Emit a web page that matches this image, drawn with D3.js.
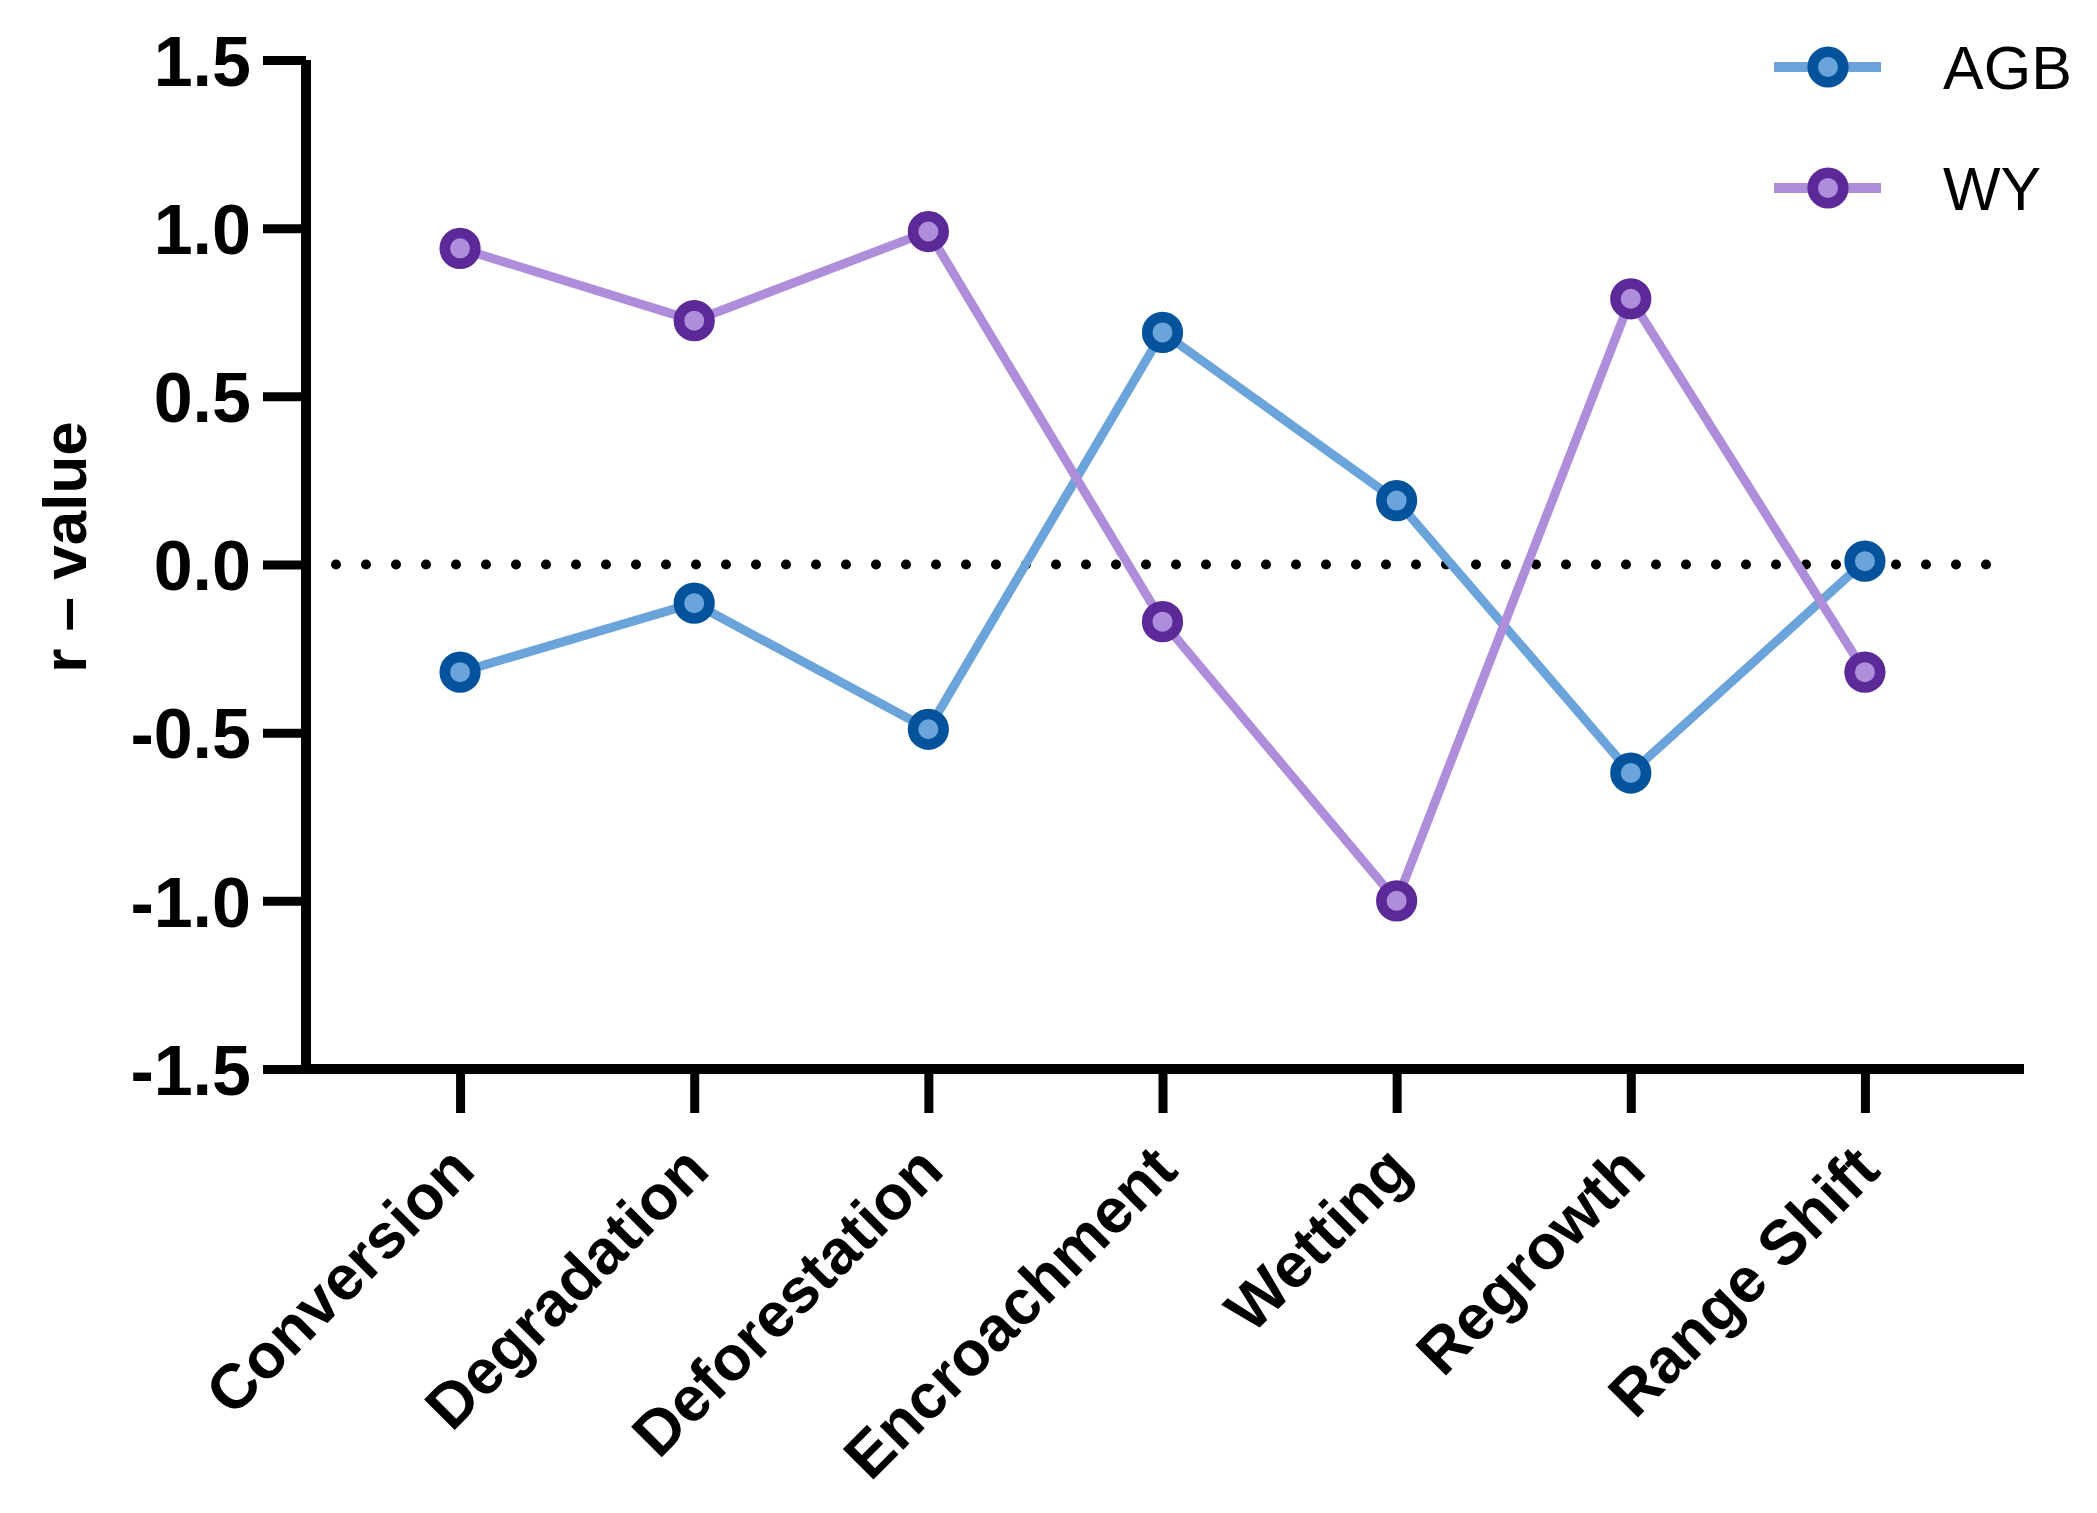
<!DOCTYPE html>
<html>
<head>
<meta charset="utf-8">
<script src="https://cdn.jsdelivr.net/npm/d3@7"></script>
<style>
  body { margin: 0; background: #fff; }
  svg { display: block; font-family: "Liberation Sans", Arial, sans-serif; }
</style>
</head>
<body>
<div class="canvas"></div>
<script>
// data
const categories = ["Conversion", "Degradation", "Deforestation", "Encroachment", "Wetting", "Regrowth", "Range Shift"];
const agb = [-0.32, -0.115, -0.49, 0.69, 0.19, -0.62, 0.01];
const wy = [0.94, 0.725, 0.99, -0.17, -1.0, 0.79, -0.32];
const yTicks = [-1.5, -1.0, -0.5, 0.0, 0.5, 1.0, 1.5];
const seriesNames = ["AGB", "WY"];

const width = 2097;
const height = 1513;
const margin = { top: 60, right: 78, bottom: 444, left: 306 };
const graphWidth = width - margin.left - margin.right;
const graphHeight = height - margin.top - margin.bottom;

const colors = {
  AGB: { line: "#6aa4da", ring: "#02539c", fill: "#6aa4da" },
  WY: { line: "#ae8dda", ring: "#5b2a98", fill: "#ae8dda" }
};

const svg = d3
  .select(".canvas")
  .append("svg")
  .attr("width", width)
  .attr("height", height);

const graph = svg
  .append("g")
  .attr("transform", `translate(${margin.left},${margin.top})`);

//scales
const x = d3.scalePoint().domain(categories).range([0, graphWidth]).padding(0.658);
const y = d3.scaleLinear().domain([-1.5, 1.5]).range([graphHeight, 0]);

//zero reference line (dotted)
graph
  .append("line")
  .attr("x1", 30)
  .attr("x2", graphWidth - 6)
  .attr("y1", y(0))
  .attr("y2", y(0))
  .attr("stroke", "#000")
  .attr("stroke-width", 10)
  .attr("stroke-linecap", "round")
  .attr("stroke-dasharray", "0 30");

//axes
const yAxis = d3.axisLeft(y).tickValues(yTicks).tickSize(43).tickPadding(12).tickFormat((d) => d.toFixed(1));
const xAxis = d3.axisBottom(x).tickSize(44).tickFormat("");

const yAxisGroup = graph.append("g").attr("class", "y-axis").call(yAxis);
const xAxisGroup = graph
  .append("g")
  .attr("class", "x-axis")
  .attr("transform", `translate(0,${graphHeight})`)
  .call(xAxis);

[yAxisGroup, xAxisGroup].forEach((g) => {
  g.select(".domain").attr("stroke", "#000").attr("stroke-width", 10);
  g.selectAll(".tick line").attr("stroke", "#000").attr("stroke-width", 9);
});
// flat axis lines, no outer ticks
yAxisGroup.select(".domain").attr("d", `M0,0V${graphHeight + 5}`);
xAxisGroup.select(".domain").attr("d", `M-5,0H${graphWidth + 5}`);

yAxisGroup
  .selectAll(".tick text")
  .attr("font-size", 70)
  .attr("font-weight", "bold")
  .attr("fill", "#000")
  .attr("dy", "0.36em");

//rotated category labels
xAxisGroup
  .selectAll(".tick")
  .append("text")
  .attr("transform", "translate(17,104) rotate(-45)")
  .attr("text-anchor", "end")
  .attr("font-size", 63)
  .attr("font-weight", "bold")
  .attr("fill", "#000")
  .text((d) => d);

//y title
svg
  .append("text")
  .attr("transform", `translate(86,${margin.top + 487}) rotate(-90)`)
  .attr("text-anchor", "middle")
  .attr("font-size", 62)
  .attr("font-weight", "bold")
  .text("r \u2013 value");

//lines and markers
const series = [
  { name: "AGB", values: agb },
  { name: "WY", values: wy }
];

const line = d3
  .line()
  .x((d, i) => x(categories[i]))
  .y((d) => y(d));

series.forEach((s) => {
  graph
    .append("path")
    .datum(s.values)
    .attr("fill", "none")
    .attr("stroke", colors[s.name].line)
    .attr("stroke-width", 9)
    .attr("d", line);
});

series.forEach((s) => {
  graph
    .append("g")
    .selectAll("circle")
    .data(s.values)
    .enter()
    .append("circle")
    .attr("cx", (d, i) => x(categories[i]))
    .attr("cy", (d) => y(d))
    .attr("r", 15.3)
    .attr("fill", colors[s.name].fill)
    .attr("stroke", colors[s.name].ring)
    .attr("stroke-width", 10.6);
});

//legend
const legend = svg
  .append("g")
  .selectAll("g")
  .data(seriesNames)
  .enter()
  .append("g")
  .attr("transform", (d, i) => `translate(1774,${67 + i * 121})`);

legend
  .append("line")
  .attr("x1", 0)
  .attr("x2", 107)
  .attr("stroke", (d) => colors[d].line)
  .attr("stroke-width", 10);

legend
  .append("circle")
  .attr("cx", 54)
  .attr("r", 15.3)
  .attr("fill", (d) => colors[d].fill)
  .attr("stroke", (d) => colors[d].ring)
  .attr("stroke-width", 10.6);

legend
  .append("text")
  .attr("x", 169)
  .attr("dy", "0.36em")
  .attr("font-size", 61)
  .attr("fill", "#000")
  .text((d) => d);
</script>
</body>
</html>
